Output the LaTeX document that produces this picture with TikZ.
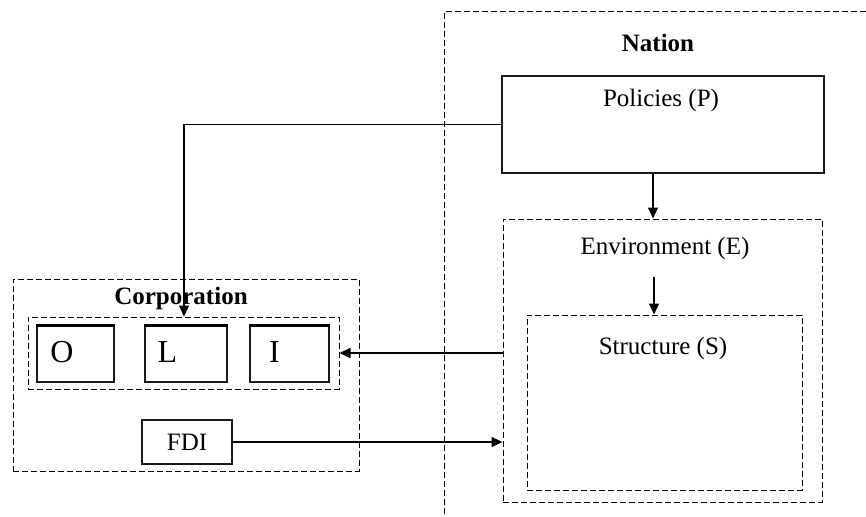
\documentclass[tikz,border=0pt]{standalone}
\usepackage{fontspec}
\setmainfont{Liberation Serif}
\usetikzlibrary{arrows.meta,calc}
\begin{document}
\begin{tikzpicture}[x=1pt,y=-1pt,
  solidbox/.style={draw=black!90,line width=1.2pt,rectangle,inner sep=0pt},
  dashbox/.style={draw=black,line width=1pt,dash pattern=on 6pt off 3pt,rectangle,inner sep=0pt},
  lbl/.style={inner sep=0pt,font=\fontsize{25}{28}\selectfont},
  blbl/.style={inner sep=0pt,font=\fontsize{25}{28}\selectfont\bfseries},
  big/.style={inner sep=0pt,anchor=base,font=\fontsize{32}{36}\selectfont},
  conn/.style={draw=black,line width=1.2pt},
  arr/.style={conn,-{Triangle[length=11pt,width=10pt]}}]
\useasboundingbox (0,0) rectangle (866,516);
% Nation frame (cut by picture edges)
\coordinate (natTR) at (866,12);
\coordinate (natBL) at (444,516);
\draw[draw=black,line width=1pt,dash pattern=on 6pt off 3pt] (natTR) -| (natBL);
\node[blbl] (nation) at (658,43) {Nation};
% Policies
\node[solidbox,minimum width=322pt,minimum height=97pt] (pol) at (663,124.5) {};
\node[lbl] (poltxt) at (661,100) {Policies (P)};
% Environment
\node[dashbox,minimum width=319pt,minimum height=283pt] (env) at (662.5,360.5) {};
\node[lbl] (envtxt) at (665,248) {Environment (E)};
% Structure
\node[dashbox,minimum width=275pt,minimum height=175pt] (str) at (664.5,402.5) {};
\node[lbl] (strtxt) at (663,348) {Structure (S)};
% Corporation
\node[dashbox,minimum width=346pt,minimum height=192pt] (corp) at (186,375) {};
\node[blbl] (corptxt) at (181,298) {Corporation};
\node[dashbox,minimum width=311pt,minimum height=72pt] (oli) at (183.5,353) {};
\node[solidbox,minimum width=77pt,minimum height=56pt] (O) at (75.5,354) {};
\node[solidbox,minimum width=82pt,minimum height=56pt] (L) at (186,354) {};
\node[solidbox,minimum width=79pt,minimum height=56pt] (I) at (289.5,354) {};
\foreach \b in {O,L,I}{\draw[draw=black,line width=2.6pt] ([yshift=-0.3pt]\b.north west) -- ([yshift=-0.3pt]\b.north east);}
\node[big] (Ot) at (62,362) {O};
\node[big] (Lt) at (167.5,362) {L};
\node[big] (It) at (274.5,362) {I};
\node[solidbox,minimum width=90pt,minimum height=44pt,font=\fontsize{25}{28}\selectfont] (fdi) at (187,442) {FDI};
% connectors
\draw[arr] (pol.west) -| ([xshift=-2pt]L.north |- oli.north);
\draw[arr] ([xshift=-10pt]pol.south) -- ([xshift=-10pt]pol.south |- env.north);
\draw[arr] (654,277) coordinate (e1) -- (e1 |- str.north);
\draw[arr] (env.west |- oli.east) -- (oli.east);
\draw[arr] (fdi.east) -- (env.west |- fdi.east);
\end{tikzpicture}
\end{document}
